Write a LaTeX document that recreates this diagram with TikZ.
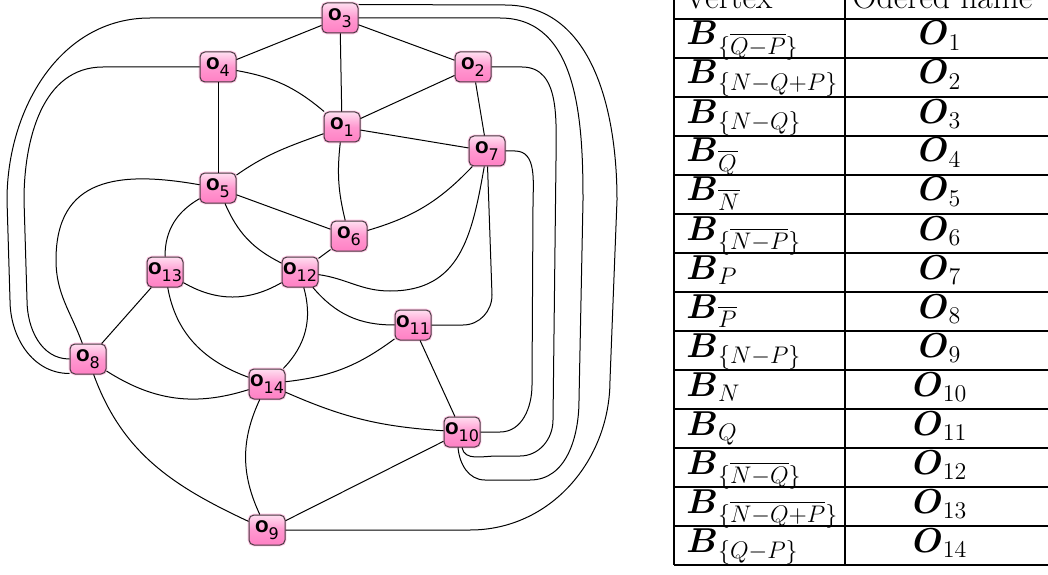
\documentclass[tikz,border=0pt]{standalone}
\usepackage{amsmath}
\usepackage{fontspec}
\newfontfamily\vxfont{DejaVu Sans}
\definecolor{VxPinkLight}{RGB}{255,222,240}
\definecolor{VxPink}{RGB}{255,152,208}
\definecolor{VxPinkDeep}{RGB}{255,128,196}
\definecolor{VxGlow}{RGB}{255,196,228}
\definecolor{VxBorder}{RGB}{72,60,66}
\usetikzlibrary{calc}
\newcommand{\ovx}[1]{\textbf{O}\raisebox{-3.2pt}{#1}}

\begin{document}
\begin{tikzpicture}[
    x=0.5pt, y=0.5pt,
    vx/.style={rectangle, rounded corners=2.5pt, draw=VxBorder, line width=0.5pt, top color=VxPinkLight, bottom color=VxPinkDeep, middle color=VxPink, minimum width=18pt, minimum height=15pt, inner sep=0pt, font=\vxfont\fontsize{8}{9}\selectfont, preaction={draw=VxGlow, line width=1.4pt}},
    link/.style={line width=0.5pt, black},
    tabrule/.style={line width=0.6pt, black},
    vcell/.style={anchor=base west, inner sep=0pt, font=\fontsize{16.4}{20}\selectfont},
    ocell/.style={anchor=base, inner sep=0pt, font=\fontsize{16.4}{20}\selectfont},
    hcell/.style={anchor=base west, inner sep=0pt, font=\fontsize{16.8}{20}\selectfont}
]
    \useasboundingbox (0,0) rectangle (1048,574);
    \clip (0,0) rectangle (1048,574);

    % vertices
    \node[vx] (o3)  at (340,556) {\ovx{3}};
    \node[vx] (o4)  at (218,507) {\ovx{4}};
    \node[vx] (o2)  at (473,507) {\ovx{2}};
    \node[vx] (o1)  at (342,447) {\ovx{1}};
    \node[vx] (o7)  at (487,423) {\ovx{7}};
    \node[vx] (o5)  at (218,386) {\ovx{5}};
    \node[vx] (o6)  at (349,338) {\ovx{6}};
    \node[vx] (o13) at (165,302) {\ovx{13}};
    \node[vx] (o12) at (300,302) {\ovx{12}};
    \node[vx] (o11) at (413,249) {\ovx{11}};
    \node[vx] (o8)  at (88,215)  {\ovx{8}};
    \node[vx] (o14) at (267,190) {\ovx{14}};
    \node[vx] (o10) at (462,142) {\ovx{10}};
    \node[vx] (o9)  at (267,44)  {\ovx{9}};

    % straight edges
    \draw[link] (o3) -- (o4);
    \draw[link] (o3) -- (o1);
    \draw[link] (o3) -- (o2);
    \draw[link] (o4) -- (o5);
    \draw[link] (o2) -- (o1);
    \draw[link] (o2) -- (o7);
    \draw[link] (o1) -- (o7);
    \draw[link] (o5) -- (o6);
    \draw[link] (o6) -- (o12);
    \draw[link] (o13) -- (o8);
    \draw[link] (o11) -- (o10);
    \draw[link] (o10) -- (o9);

    % bent edges
    \draw[link] (o4) to[bend left=15] (o1);
    \draw[link] (o5) to[out=35,in=200] (o1);
    \draw[link] (o1) to[bend right=10] (o6);
    \draw[link] (o5) to[bend right=20] (o12);
    \draw[link] (o5) to[out=210,in=90] (o13);
    \draw[link] (o6) to[bend right=15] (o7);
    \draw[link] (o13) to[bend right=30] (o12);
    \draw[link] (o13) to[out=-80,in=160] (o14);
    \draw[link] (o12) to[bend left=30] (o14);
    \draw[link] (o12) to[bend right=25] (o11);
    \draw[link] (o8) to[bend right=25] (o14);
    \draw[link] (o8) to[out=-70,in=155] (o9);
    \draw[link] (o14) to[bend right=15] (o11);
    \draw[link] (o14) to[bend right=10] (o10);
    \draw[link] (o14) to[bend right=25] (o9);

    % routed edges
    \draw[link] (o5) to[out=170,in=90,looseness=1.3] (56,314) to[out=-90,in=110] (o8);
    \draw[link] (o12) to[out=-8,in=180] (390,283) to[out=0,in=-100,looseness=1.15] (o7);
    \draw[link] (o11.east) -- (463,249) to[out=0,in=-90] (492,279) -- (o7);
    \draw[link] (o3.west) -- (150,556) to[out=180,in=90] (7,374) -- (10,274) to[out=-90,in=180] ([yshift=0.5pt]o8.south west);
    \draw[link] (o4.west) -- (103,507) to[out=180,in=90] (24,374) -- (27,274) to[out=-90,in=180] (o8.west);
    \draw[link] ([yshift=-1pt]o3.north east) -- (505,569) to[out=0,in=90] (617,374) -- (610,194) to[out=-90,in=0] (470,44) -- (o9.east);
    \draw[link] (o3.east) -- (500,556) to[out=0,in=90] (583,374) -- (579,174) to[out=-90,in=0] (530,94) -- (485,94) to[out=180,in=-85] ([xshift=-2pt]o10.south);
    \draw[link] (o2.east) -- (522,507) to[out=0,in=90] (556,414) -- (553,154) to[out=-90,in=0] (520,118) -- (497,118) to[out=180,in=-80] (o10.south);
    \draw[link] (o7.east) -- (515,423) to[out=0,in=90] (533,369) -- (532,189) to[out=-90,in=0] (500,142) -- (o10.east);

    % table
    \foreach \y in {555,516,...,9} \draw[tabrule] (674,\y) -- (1070,\y);
    \draw[tabrule] (674,600) -- (674,9);
    \draw[tabrule] (845,600) -- (845,9);
    \node[hcell] (hvtx) at (684,565) {Vertex};
    \node[hcell] (hord) at (852,565) {Odered name};
    \node[vcell] (vtx1)  at (686,529) {$\boldsymbol{B}_{\{\overline{Q-P}\}}$};
    \node[ocell] (ord1)  at (940,529) {$\boldsymbol{O}_{1}$};
    \node[vcell] (vtx2)  at (686,490) {$\boldsymbol{B}_{\{N-Q+P\}}$};
    \node[ocell] (ord2)  at (940,490) {$\boldsymbol{O}_{2}$};
    \node[vcell] (vtx3)  at (686,451) {$\boldsymbol{B}_{\{N-Q\}}$};
    \node[ocell] (ord3)  at (940,451) {$\boldsymbol{O}_{3}$};
    \node[vcell] (vtx4)  at (686,412) {$\boldsymbol{B}_{\overline{Q}}$};
    \node[ocell] (ord4)  at (940,412) {$\boldsymbol{O}_{4}$};
    \node[vcell] (vtx5)  at (686,373) {$\boldsymbol{B}_{\overline{N}}$};
    \node[ocell] (ord5)  at (940,373) {$\boldsymbol{O}_{5}$};
    \node[vcell] (vtx6)  at (686,334) {$\boldsymbol{B}_{\{\overline{N-P}\}}$};
    \node[ocell] (ord6)  at (940,334) {$\boldsymbol{O}_{6}$};
    \node[vcell] (vtx7)  at (686,295) {$\boldsymbol{B}_{P}$};
    \node[ocell] (ord7)  at (940,295) {$\boldsymbol{O}_{7}$};
    \node[vcell] (vtx8)  at (686,256) {$\boldsymbol{B}_{\overline{P}}$};
    \node[ocell] (ord8)  at (940,256) {$\boldsymbol{O}_{8}$};
    \node[vcell] (vtx9)  at (686,217) {$\boldsymbol{B}_{\{N-P\}}$};
    \node[ocell] (ord9)  at (940,217) {$\boldsymbol{O}_{9}$};
    \node[vcell] (vtx10) at (686,178) {$\boldsymbol{B}_{N}$};
    \node[ocell] (ord10) at (940,178) {$\boldsymbol{O}_{10}$};
    \node[vcell] (vtx11) at (686,139) {$\boldsymbol{B}_{Q}$};
    \node[ocell] (ord11) at (940,139) {$\boldsymbol{O}_{11}$};
    \node[vcell] (vtx12) at (686,100) {$\boldsymbol{B}_{\{\overline{N-Q}\}}$};
    \node[ocell] (ord12) at (940,100) {$\boldsymbol{O}_{12}$};
    \node[vcell] (vtx13) at (686,61)  {$\boldsymbol{B}_{\{\overline{N-Q+P}\}}$};
    \node[ocell] (ord13) at (940,61)  {$\boldsymbol{O}_{13}$};
    \node[vcell] (vtx14) at (686,22)  {$\boldsymbol{B}_{\{Q-P\}}$};
    \node[ocell] (ord14) at (940,22)  {$\boldsymbol{O}_{14}$};
\end{tikzpicture}
\end{document}
